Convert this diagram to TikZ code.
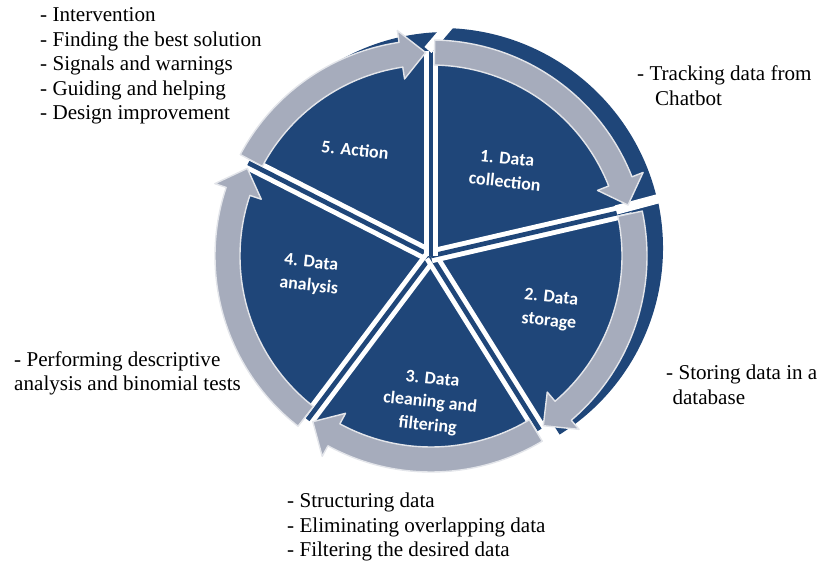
\documentclass[tikz,border=0pt]{standalone}
\usepackage{fontspec}
\setmainfont{Liberation Serif}
\newfontfamily\labelfont{Carlito}

\definecolor{pieblue}{HTML}{1F4679}
\definecolor{arrowgrey}{HTML}{A6ACBC}
\definecolor{arrowedge}{HTML}{E3E5EA}

\tikzset{
  seglabel/.style={white, align=center, rotate=-6, font=\labelfont\bfseries\fontsize{15.3}{20}\selectfont},
  note/.style={align=left, anchor=west, inner sep=0pt, font=\fontsize{18}{20.9}\selectfont},
  gap/.style={draw=white, line width=4.2pt, double=pieblue, double distance=4pt},
  cyclearrow/.style={fill=arrowgrey, draw=arrowedge, line width=1.2pt, line join=round}
}

\begin{document}
\begin{tikzpicture}[x=0.3mm, y=0.3mm]
    \useasboundingbox (0,0) rectangle (821,562);

    \begin{scope}[shift={(431,306)}]
        % the pie, with the rims of segments 5, 1 and 2 standing out
        \fill[pieblue] (0,0) circle[radius=200];
        \fill[pieblue] (16,6) -- ++(90:218) arc[start angle=90, end angle=153, radius=218] -- cycle;
        \fill[pieblue] (10,6) -- ++(13:222) arc[start angle=13, end angle=90, radius=222] -- cycle;
        \fill[pieblue] (12,8) -- ++(-58:220) arc[start angle=-58, end angle=13, radius=220] -- cycle;
        \foreach \a in {153,-127,-58,13,90}
            \draw[gap] (0,0) -- (\a:205);
        \draw[white, line width=8pt] (-3,206) -- (26,240);
        \draw[white, line width=8pt] (185,46) -- (245,62);

        % arrows round the pie
        \foreach \t/\h [evaluate=\h as \b using \h+7] in {152/91.5, 89/14.5, 12/-56.5, -59/-125.5, -128/-205.5}
            \draw[cyclearrow] (\t:216) arc[start angle=\t, end angle=\b, radius=216]
                -- (\b:228) -- (\h:203.5) -- (\b:179) -- (\b:191)
                arc[start angle=\b, end angle=\t, radius=191] -- cycle;
    \end{scope}

    \node[seglabel] (collection) at (506,392) {1. Data\\collection};
    \node[seglabel] (storage) at (550,252) {2. Data\\storage};
    \node[seglabel] (cleaning) at (430,159) {3. Data\\cleaning and\\filtering};
    \node[seglabel] (analysis) at (310,287) {4. Data\\analysis};
    \node[seglabel] (action) at (355,412) {5. Action};

    \node[note] (actionnote) at (40,496) {- Intervention\\- Finding the best solution\\- Signals and warnings\\- Guiding and helping\\- Design improvement};
    \node[note] (collectionnote) at (637,476.5) {- Tracking data from\\\hspace*{0.85em}Chatbot};
    \node[note] (storagenote) at (666,177) {- Storing data in a\\\hspace*{0.3em}database};
    \node[note] (analysisnote) at (14,188.5) {- Performing descriptive\\analysis and binomial tests};
    \node[note] (cleaningnote) at (287,35) {- Structuring data\\- Eliminating overlapping data\\- Filtering the desired data};
\end{tikzpicture}
\end{document}
